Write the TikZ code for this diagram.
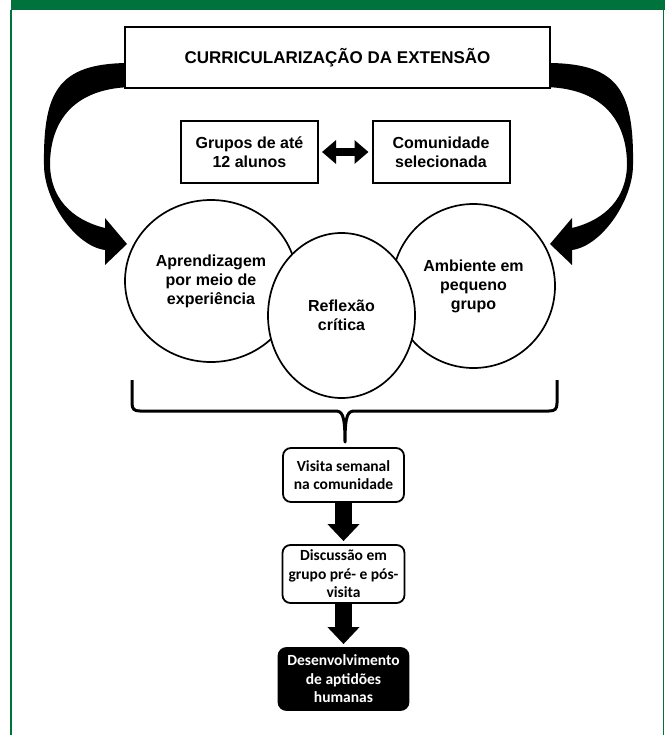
\documentclass[tikz,border=0pt]{standalone}
\usepackage{fontspec}
\setmainfont{Liberation Sans}
\newfontfamily\calibrifont{Carlito}
\usetikzlibrary{arrows.meta,shapes.geometric}
\definecolor{headgreen}{RGB}{0,114,59}

\begin{document}
\begin{tikzpicture}[x=1pt,y=-1pt,
    titlebox/.style={draw,fill=white,line width=2pt,minimum width=425pt,minimum height=61pt,
      font=\bfseries\fontsize{17}{20}\selectfont},
    groupbox/.style={draw,fill=white,line width=2pt,minimum width=137pt,minimum height=62pt,
      align=center,font=\bfseries\fontsize{16}{19}\selectfont},
    ring/.style={draw,fill=white,ellipse,inner sep=0pt,line width=1.7pt,align=center,
      font=\bfseries\fontsize{16}{19}\selectfont},
    flowbox/.style={draw,fill=white,rounded corners=8pt,line width=1.8pt,align=center,
      font=\calibrifont\bfseries\fontsize{15.5}{18.5}\selectfont},
    biarrow/.style={line width=8pt,{Triangle[width=23pt,length=14pt]}-{Triangle[width=23pt,length=14pt]},
      shorten <=3pt,shorten >=3pt},
    downarrow/.style={line width=17pt,-{Triangle[width=31pt,length=17pt]},shorten >=3pt},
    curvearrow/.style={fill=black}]
  \useasboundingbox (0,0) rectangle (665,735);
  \fill[headgreen] (11,0) rectangle (665,10.5);
  \draw[headgreen,line width=1.5pt] (10.8,10) -- (10.8,735);
  \draw[headgreen,line width=1.5pt] (663.3,10) -- (663.3,735);

  \newcommand\bendarrow{(135,63) .. controls (60,62) and (43,88) .. (44,165)
    .. controls (44,200) and (75,246) .. (105,250) -- (105,265) -- (127,244) -- (105,218) -- (105,228)
    .. controls (80,222) and (51,205) .. (50,165) .. controls (50,120) and (75,87) .. (135,87) -- cycle}
  \fill[curvearrow] \bendarrow;
  \begin{scope}[xshift=677pt,xscale=-1]
    \fill[curvearrow] \bendarrow;
  \end{scope}

  \node[titlebox] (title) at (337.5,57.5) {CURRICULARIZAÇÃO DA EXTENSÃO};
  \node[groupbox] (grupos) at (249.5,152) {Grupos de até\\12 alunos};
  \node[groupbox] (comunidade) at (441,152) {Comunidade\\selecionada};
  \draw[biarrow] (grupos) -- (comunidade);

  \node[ring,minimum width=172pt,minimum height=162pt] (aprend) at (211,281)
    {Aprendizagem\\por meio de\\experiência};
  \node[ring,minimum width=163pt,minimum height=164pt] (ambiente) at (473.5,286)
    {Ambiente em\\pequeno\\grupo};
  \node[ring,minimum width=147pt,minimum height=165pt] (reflexao) at (341.5,315.5)
    {Reflexão\\crítica};

  \coordinate (bracetip) at (345,442);
  \draw[line width=3pt,line join=round] (132,380) -- (132,403) .. controls (132,409) and (134,411) .. (140,411)
    -- (335,411) .. controls (342,411) and (345,414) .. (bracetip)
    .. controls (345,414) and (348,411) .. (355,411) -- (549,411)
    .. controls (555,411) and (557,409) .. (557,403) -- (557,380);

  \node[flowbox,minimum width=121pt,minimum height=54pt] (visita) at (343.5,475)
    {Visita semanal\\na comunidade};
  \node[flowbox,minimum width=122pt,minimum height=58pt] (discussao) at (343.5,574)
    {Discussão em\\grupo pré- e pós-\\visita};
  \node[flowbox,fill=black,text=white,minimum width=130pt,minimum height=62pt] (desenv) at (343.5,679)
    {Desenvolvimento\\de aptidões\\humanas};
  \draw[downarrow] (visita) -- (discussao);
  \draw[downarrow] (discussao) -- (desenv);
\end{tikzpicture}
\end{document}
